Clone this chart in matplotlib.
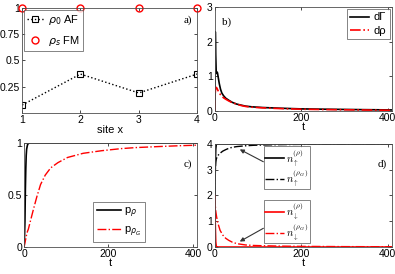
import matplotlib
matplotlib.use("Agg")
import matplotlib.pyplot as plt
from matplotlib.font_manager import FontProperties

plt.rcParams['font.family'] = ['Liberation Sans', 'DejaVu Sans']
plt.rcParams['font.size'] = 8

# a) site densities
sites = [1, 2, 3, 4]
rho0_af = [0.075, 0.37, 0.19, 0.37]
rhos_fm = [1, 1, 1, 1]

# b) distances vs t
t_b = [0, 0.5, 1, 1.5, 2, 3, 4, 5, 6, 8, 10, 13, 16, 20, 25, 32, 40, 50, 60, 71, 85, 110, 150, 200, 260, 330, 410]
d_gamma = [0, 1.4, 2.28, 2.0, 1.6, 1.15, 1.08, 1.12, 1.1, 0.95, 0.8, 0.63, 0.52, 0.44, 0.37, 0.31, 0.25, 0.2, 0.17, 0.14, 0.12, 0.1, 0.08, 0.06, 0.05, 0.04, 0.03]
d_rho = [0, 0.35, 0.55, 0.62, 0.66, 0.68, 0.67, 0.65, 0.62, 0.57, 0.52, 0.47, 0.43, 0.38, 0.34, 0.29, 0.24, 0.2, 0.16, 0.13, 0.11, 0.09, 0.07, 0.05, 0.04, 0.03, 0.02]

# c) probabilities vs t
t_c = [0, 1, 2, 3, 4, 5, 6, 8, 10, 15, 22, 30, 39, 50, 63, 80, 103, 140, 184, 230, 265, 320, 370, 410]
p_rho = [0, 0.1, 0.25, 0.55, 0.75, 0.88, 0.94, 0.98, 0.995, 1, 1, 1, 1, 1, 1, 1, 1, 1, 1, 1, 1, 1, 1, 1]
p_rhog = [0, 0.02, 0.04, 0.06, 0.08, 0.1, 0.12, 0.15, 0.17, 0.25, 0.36, 0.48, 0.6, 0.69, 0.76, 0.81, 0.86, 0.9, 0.925, 0.945, 0.955, 0.965, 0.973, 0.978]

# d) occupations vs t
t_d = [0, 1, 2, 3, 4, 6, 8, 12, 18, 25, 32, 40, 51, 71, 90, 110, 150, 200, 300, 410]
n_up = [2, 3.2, 3.8, 3.97, 4, 4, 4, 4, 4, 4, 4, 4, 4, 4, 4, 4, 4, 4, 4, 4]
n_up_g = [2, 3.0, 3.3, 3.4, 3.45, 3.52, 3.57, 3.64, 3.72, 3.78, 3.83, 3.87, 3.9, 3.93, 3.95, 3.96, 3.975, 3.985, 3.995, 4]
n_dn = [2, 0.8, 0.2, 0.05, 0, 0, 0, 0, 0, 0, 0, 0, 0, 0, 0, 0, 0, 0, 0, 0]
n_dn_g = [2, 1.6, 1.4, 1.28, 1.17, 1.0, 0.87, 0.65, 0.47, 0.34, 0.26, 0.19, 0.13, 0.08, 0.06, 0.05, 0.035, 0.025, 0.015, 0.01]

fig = plt.figure(figsize=(3.95, 2.74), dpi=100)
ax_a = fig.add_axes([0.056, 0.588, 0.443, 0.383])
ax_b = fig.add_axes([0.544, 0.595, 0.448, 0.380])
ax_c = fig.add_axes([0.061, 0.0985, 0.438, 0.380])
ax_d = fig.add_axes([0.544, 0.0985, 0.448, 0.376])

for ax in (ax_a, ax_b, ax_c, ax_d):
    ax.tick_params(direction='in', length=2, width=0.5, pad=1.5, labelsize=7.5,
                   top=True, right=True)
    for s in ax.spines.values():
        s.set_linewidth(0.6)
        s.set_color('0.3')

lab = dict(family='Liberation Serif', fontsize=8)

# a)
ax_a.plot(sites, rho0_af, ':s', color='k', ms=4, mfc='none', mew=0.8, lw=1, label=r'$\rho_0$ AF')
ax_a.plot(sites, rhos_fm, 'o', color='r', ms=5, mfc='none', mew=1, ls='none', clip_on=False, label=r'$\rho_s$ FM')
ax_a.set_xlim(1, 4)
ax_a.set_ylim(0, 1)
ax_a.set_xticks([1, 2, 3, 4])
ax_a.set_yticks([0.25, 0.5, 0.75, 1])
ax_a.set_yticklabels(['0.25', '0.5', '0.75', '1'])
ax_a.set_xlabel('site x', labelpad=0)
ax_a.legend(loc='upper left', fontsize=8, fancybox=False, edgecolor='0.3',
            borderaxespad=0.15, handlelength=1.5, handletextpad=0.4, borderpad=0.3,
            labelspacing=0.6).get_frame().set_linewidth(0.6)
ax_a.text(0.97, 0.88, 'a)', transform=ax_a.transAxes, ha='right', va='center', **lab)

# b)
ax_b.plot(t_b, d_gamma, '-', color='k', lw=1.2, label='dΓ')
ax_b.plot(t_b, d_rho, '-.', color='r', lw=1.2, label='dρ')
ax_b.set_xlim(0, 410)
ax_b.set_ylim(0, 3)
ax_b.set_xticks([0, 200, 400])
ax_b.set_yticks([0, 1, 2, 3])
ax_b.set_xlabel('t', labelpad=-1)
ax_b.legend(loc='upper right', fontsize=8, fancybox=False, edgecolor='0.3',
            borderaxespad=0.2, handlelength=1.7, handletextpad=0.4, borderpad=0.3,
            labelspacing=0.3).get_frame().set_linewidth(0.6)
ax_b.text(0.04, 0.85, 'b)', transform=ax_b.transAxes, ha='left', va='center', **lab)

# c)
ax_c.plot(t_c, p_rho, '-', color='k', lw=1.2, label=r'p$_\rho$')
ax_c.plot(t_c, p_rhog, '-.', color='r', lw=1.0, label=r'p$_{\rho_G}$')
ax_c.set_xlim(0, 410)
ax_c.set_ylim(0, 1)
ax_c.set_xticks([0, 200, 400])
ax_c.set_yticks([0, 0.5, 1])
ax_c.set_yticklabels(['0', '0.5', '1'])
ax_c.set_xlabel('t', labelpad=-1)
ax_c.legend(loc='upper left', bbox_to_anchor=(0.4, 0.43), fontsize=8, fancybox=False,
            edgecolor='0.3', borderaxespad=0, handlelength=2.2, handletextpad=0.3,
            borderpad=0.3, labelspacing=0.4).get_frame().set_linewidth(0.6)
ax_c.text(0.97, 0.8, 'c)', transform=ax_c.transAxes, ha='right', va='center', **lab)

# d)
cm = FontProperties(family='Liberation Sans', size=7.5, math_fontfamily='cm')
l_up1, = ax_d.plot(t_d, n_up, '-', color='k', lw=1.2)
l_up2, = ax_d.plot(t_d, n_up_g, '-.', color='k', lw=1.0)
l_dn1, = ax_d.plot(t_d, n_dn, '-', color='r', lw=1.2)
l_dn2, = ax_d.plot(t_d, n_dn_g, '-.', color='r', lw=1.0)
ax_d.set_xlim(0, 410)
ax_d.set_ylim(0, 4)
ax_d.set_xticks([0, 200, 400])
ax_d.set_yticks([0, 1, 2, 3, 4])
ax_d.set_xlabel('t', labelpad=-1)
leg_kw = dict(loc='upper left', prop=cm, fancybox=False, edgecolor='0.3', borderaxespad=0,
              handlelength=1.8, handletextpad=0.2, borderpad=0.1, labelspacing=0.0)
leg1 = ax_d.legend([l_up1, l_up2], [r'$n_\uparrow^{(\rho)}$', r'$n_\uparrow^{(\rho_G)}$'],
                   bbox_to_anchor=(0.28, 0.98), **leg_kw)
leg1.get_frame().set_linewidth(0.6)
ax_d.add_artist(leg1)
leg2 = ax_d.legend([l_dn1, l_dn2], [r'$n_\downarrow^{(\rho)}$', r'$n_\downarrow^{(\rho_G)}$'],
                   bbox_to_anchor=(0.28, 0.46), **leg_kw)
leg2.get_frame().set_linewidth(0.6)
arr = dict(arrowstyle='-|>', color='0.2', lw=0.8, mutation_scale=6)
ax_d.annotate('', xy=(52, 3.84), xytext=(118, 3.26), arrowprops=arr)
ax_d.annotate('', xy=(52, 0.16), xytext=(118, 0.78), arrowprops=arr)
ax_d.text(0.97, 0.8, 'd)', transform=ax_d.transAxes, ha='right', va='center', **lab)

fig.savefig('out.png', dpi=100)
